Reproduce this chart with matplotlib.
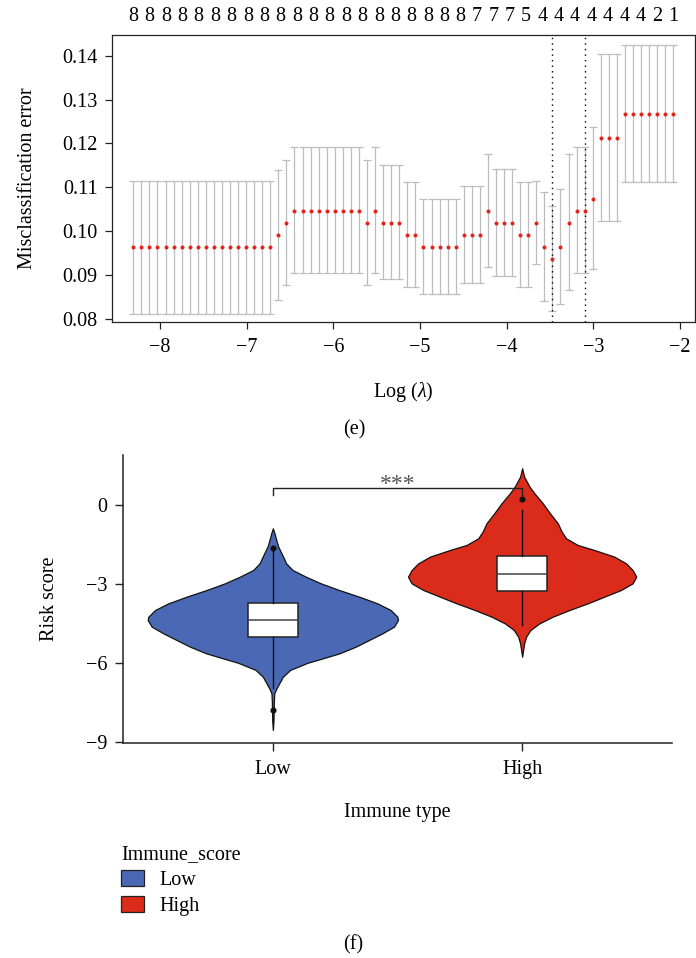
import matplotlib
matplotlib.use("Agg")
import matplotlib.pyplot as plt
import numpy as np
from matplotlib.patches import Patch

plt.rcParams["font.family"] = ["Liberation Serif", "DejaVu Serif"]
plt.rcParams["mathtext.fontset"] = "custom"
plt.rcParams["mathtext.rm"] = "Liberation Serif"
plt.rcParams["mathtext.it"] = "Liberation Serif:italic"
plt.rcParams["axes.unicode_minus"] = True

# ---------------- cross-validation curve (LASSO) ----------------
log_lambda = [
    -8.308, -8.215, -8.122, -8.029, -7.936, -7.843, -7.750, -7.657, -7.564, -7.471,
    -7.378, -7.285, -7.192, -7.099, -7.006, -6.913, -6.820, -6.727, -6.634, -6.541,
    -6.448, -6.355, -6.262, -6.169, -6.076, -5.983, -5.890, -5.797, -5.704, -5.611,
    -5.518, -5.425, -5.332, -5.239, -5.146, -5.053, -4.960, -4.867, -4.774, -4.681,
    -4.588, -4.495, -4.402, -4.309, -4.216, -4.123, -4.030, -3.937, -3.844, -3.751,
    -3.658, -3.565, -3.472, -3.379, -3.286, -3.193, -3.100, -3.007, -2.914, -2.821,
    -2.728, -2.635, -2.542, -2.449, -2.356, -2.263, -2.170, -2.077,
]
cv_mean = [
    0.0964, 0.0964, 0.0964, 0.0964, 0.0964, 0.0964, 0.0964, 0.0964, 0.0964, 0.0964,
    0.0964, 0.0964, 0.0964, 0.0964, 0.0964, 0.0964, 0.0964, 0.0964, 0.0992, 0.1019,
    0.1047, 0.1047, 0.1047, 0.1047, 0.1047, 0.1047, 0.1047, 0.1047, 0.1047, 0.1019,
    0.1047, 0.1019, 0.1019, 0.1019, 0.0992, 0.0992, 0.0964, 0.0964, 0.0964, 0.0964,
    0.0964, 0.0992, 0.0992, 0.0992, 0.1047, 0.1019, 0.1019, 0.1019, 0.0992, 0.0992,
    0.1019, 0.0964, 0.0937, 0.0964, 0.1019, 0.1047, 0.1047, 0.1074, 0.1212, 0.1212,
    0.1212, 0.1267, 0.1267, 0.1267, 0.1267, 0.1267, 0.1267, 0.1267,
]
cv_upper = [
    0.1115, 0.1115, 0.1115, 0.1115, 0.1115, 0.1115, 0.1115, 0.1115, 0.1115, 0.1115,
    0.1115, 0.1115, 0.1115, 0.1115, 0.1115, 0.1115, 0.1115, 0.1115, 0.1140, 0.1162,
    0.1191, 0.1191, 0.1191, 0.1191, 0.1191, 0.1191, 0.1191, 0.1191, 0.1191, 0.1162,
    0.1191, 0.1150, 0.1150, 0.1150, 0.1112, 0.1112, 0.1073, 0.1073, 0.1073, 0.1073,
    0.1073, 0.1104, 0.1104, 0.1104, 0.1176, 0.1141, 0.1141, 0.1141, 0.1112, 0.1112,
    0.1115, 0.1090, 0.1057, 0.1096, 0.1176, 0.1191, 0.1191, 0.1237, 0.1403, 0.1403,
    0.1403, 0.1425, 0.1425, 0.1425, 0.1425, 0.1425, 0.1425, 0.1425,
]
cv_lower = [
    0.0812, 0.0812, 0.0812, 0.0812, 0.0812, 0.0812, 0.0812, 0.0812, 0.0812, 0.0812,
    0.0812, 0.0812, 0.0812, 0.0812, 0.0812, 0.0812, 0.0812, 0.0812, 0.0844, 0.0877,
    0.0904, 0.0904, 0.0904, 0.0904, 0.0904, 0.0904, 0.0904, 0.0904, 0.0904, 0.0877,
    0.0904, 0.0891, 0.0891, 0.0891, 0.0873, 0.0873, 0.0856, 0.0856, 0.0856, 0.0856,
    0.0856, 0.0881, 0.0881, 0.0881, 0.0919, 0.0899, 0.0899, 0.0899, 0.0873, 0.0873,
    0.0926, 0.0841, 0.0819, 0.0834, 0.0865, 0.0905, 0.0905, 0.0915, 0.1024, 0.1024,
    0.1024, 0.1112, 0.1112, 0.1112, 0.1112, 0.1112, 0.1112, 0.1112,
]
nzero_labels = [
    8, 8, 8, 8, 8, 8, 8, 8, 8, 8, 8, 8, 8, 8, 8, 8, 8, 8, 8, 8, 8,
    7, 7, 7, 5, 4, 4, 4, 4, 4, 4, 4, 2, 1,
]
x_ticks_top = [-8, -7, -6, -5, -4, -3, -2]
y_ticks_top = [0.08, 0.09, 0.10, 0.11, 0.12, 0.13, 0.14]

# ---------------- risk score by immune type ----------------
groups = ["Low", "High"]
group_colors = ["#4A68B3", "#DA2B1B"]
# kernel density profiles of the risk score (relative density)
low_coords = [-8.555, -8.20, -7.50, -7.161, -6.97, -6.78, -6.53, -6.27, -6.00, -5.83,
              -5.64, -5.387, -5.133, -4.880, -4.626, -4.373, -4.246, -3.992, -3.739,
              -3.485, -3.232, -2.978, -2.725, -2.471, -2.218, -2.028, -1.838, -1.584,
              -1.331, -1.078, -0.887]
low_density = [0.000, 0.005, 0.008, 0.011, 0.029, 0.051, 0.080, 0.138, 0.277, 0.399,
               0.532, 0.662, 0.769, 0.875, 0.968, 1.000, 0.995, 0.941, 0.835,
               0.689, 0.529, 0.383, 0.263, 0.157, 0.106, 0.088, 0.069, 0.043,
               0.027, 0.013, 0.000]
high_coords = [-5.767, -5.26, -5.006, -4.753, -4.500, -4.246, -3.993, -3.739, -3.486,
               -3.232, -2.979, -2.725, -2.472, -2.218, -1.965, -1.711, -1.521, -1.268,
               -1.014, -0.697, -0.317, 0.063, 0.444, 0.696, 1.077, 1.394]
high_density = [0.000, 0.016, 0.032, 0.066, 0.138, 0.245, 0.378, 0.524, 0.657,
                0.790, 0.883, 0.912, 0.883, 0.830, 0.737, 0.577, 0.444, 0.351,
                0.316, 0.285, 0.223, 0.165, 0.098, 0.059, 0.016, 0.000]
# box-plot summaries
box_q1 = [-5.03, -3.27]
box_med = [-4.37, -2.62]
box_q3 = [-3.71, -1.94]
box_whislo = [-6.95, -4.56]
box_whishi = [-1.75, -0.19]
box_fliers = [[-1.65, -7.80], [0.216]]
risk_ticks = [0, -3, -6, -9]
signif_label = "***"

# ---------------- figure ----------------
W, H = 696, 958
fig = plt.figure(figsize=(W / 100, H / 100), dpi=100)


def fx(px):
    return px / W


def fy(py):
    return 1 - py / H


FS = 14.5

# Panel (e)
ax1 = fig.add_axes([fx(111.7), fy(322.3), (695 - 111.7) / W, (322.3 - 35) / H])
lam = np.array(log_lambda)
mean = np.array(cv_mean)
up = np.array(cv_upper)
lo = np.array(cv_lower)
ax1.errorbar(lam, mean, yerr=[mean - lo, up - mean], fmt="none", ecolor="#bcbcbc",
             elinewidth=0.9, capsize=3.1, capthick=0.9, zorder=1)
ax1.plot(lam, mean, "o", color="#e3241b", ms=2.9, mec="none", zorder=3)

i_min = int(np.argmin(mean))
se_min = up[i_min] - mean[i_min]
i_1se = int(np.max(np.where(mean <= mean[i_min] + se_min)[0]))
for i in (i_min, i_1se):
    ax1.axvline(lam[i], color="black", ls=(0, (1, 3)), lw=1.0, zorder=2)

ax1.set_xlim(-8.557, -1.827)
ax1.set_ylim(0.07925, 0.1447)
ax1.set_xticks(x_ticks_top)
ax1.set_xticklabels([f"{t}".replace("-", "\u2212") for t in x_ticks_top])
ax1.set_yticks(y_ticks_top)
ax1.set_yticklabels([f"{t:.2f}" for t in y_ticks_top])
ax1.tick_params(axis="both", labelsize=FS, length=4.8, width=0.9, direction="out",
                color="#222222")
ax1.tick_params(axis="y", pad=5.5)
ax1.tick_params(axis="x", pad=6.5)
for s in ax1.spines.values():
    s.set_linewidth(0.9)
    s.set_color("#222222")

ax1.set_xlabel(r"Log ($\mathit{\lambda}$)", fontsize=FS)
ax1.xaxis.set_label_coords(0.5, -0.2426)
ax1.xaxis.label.set_va("center")
ax1.set_ylabel("Misclassification error", fontsize=FS)
ax1.yaxis.set_label_coords(-0.1435, 0.5)
ax1.yaxis.label.set_va("center")

top = ax1.twiny()
top.set_xlim(ax1.get_xlim())
top.set_xticks(np.linspace(lam[0], lam[-1], len(nzero_labels)))
top.set_xticklabels([str(v) for v in nzero_labels])
top.tick_params(axis="x", length=0, pad=6.5, labelsize=FS)
for s in top.spines.values():
    s.set_visible(False)

fig.text(fx(354), fy(430), "(e)", fontsize=FS, ha="center", va="center")

# Panel (f)
ax2 = fig.add_axes([fx(123.3), fy(743.3), (671.7 - 123.3) / W, (743.3 - 455) / H])
positions = [0, 1]
profiles = [(low_coords, low_density), (high_coords, high_density)]
vpstats = []
for (c, d), med in zip(profiles, box_med):
    vpstats.append({"coords": np.array(c), "vals": np.array(d), "mean": med,
                    "median": med, "min": min(c), "max": max(c), "quantiles": []})
half_max = 0.502  # half-width of the widest violin in category units
widths = [2 * half_max * max(d) for _, d in profiles]
parts = ax2.violin(vpstats, positions=positions, widths=widths, showmeans=False,
                   showextrema=False, showmedians=False)
for body, col in zip(parts["bodies"], group_colors):
    body.set_facecolor(col)
    body.set_edgecolor("#111111")
    body.set_linewidth(0.9)
    body.set_alpha(1)
    body.set_zorder(1)

bstats = []
for k in range(len(groups)):
    bstats.append({"med": box_med[k], "q1": box_q1[k], "q3": box_q3[k],
                   "whislo": box_whislo[k], "whishi": box_whishi[k],
                   "fliers": box_fliers[k]})
ax2.bxp(bstats, positions=positions, widths=0.2, patch_artist=True, showcaps=False,
        boxprops=dict(facecolor="white", edgecolor="#222222", linewidth=1.1),
        medianprops=dict(color="#444444", linewidth=1.1),
        whiskerprops=dict(color="#111111", linewidth=1.0),
        flierprops=dict(marker="o", markerfacecolor="#111111", markeredgecolor="#111111",
                        markersize=3.4),
        zorder=2)

# significance bracket
br_top, br_leg = 0.635, 0.38
ax2.plot([positions[0], positions[0], positions[1], positions[1]],
         [br_leg, br_top, br_top, br_leg], color="#222222", lw=1.0, zorder=3)
ax2.text(np.mean(positions), 0.58, signif_label, ha="center", va="baseline",
         fontsize=17, color="#555555")

ax2.set_xlim(-0.6, 1.6)
ax2.set_ylim(-9.06, 1.90)
ax2.set_yticks(risk_ticks)
ax2.set_yticklabels([f"{t}".replace("-", "\u2212") for t in risk_ticks])
ax2.set_xticks(positions)
ax2.set_xticklabels(groups)
ax2.spines["top"].set_visible(False)
ax2.spines["right"].set_visible(False)
for s in ("left", "bottom"):
    ax2.spines[s].set_linewidth(1.1)
    ax2.spines[s].set_color("#222222")
ax2.tick_params(axis="both", labelsize=FS, length=5.8, width=1.0, color="#222222")
ax2.tick_params(axis="y", pad=5.5)
ax2.tick_params(axis="x", pad=6.5)

ax2.set_xlabel("Immune type", fontsize=FS)
ax2.xaxis.set_label_coords(0.5, -0.2413)
ax2.xaxis.label.set_va("center")
ax2.set_ylabel("Risk score", fontsize=FS)
ax2.yaxis.set_label_coords(-0.1342, 0.5)
ax2.yaxis.label.set_va("center")

handles = [Patch(facecolor=c, edgecolor="#222222", linewidth=0.9) for c in group_colors]
leg = fig.legend(handles, groups, title="Immune_score", loc="upper left",
                 bbox_to_anchor=(fx(121), fy(845)), frameon=False, fontsize=FS,
                 title_fontsize=FS, handlelength=1.15, handleheight=0.85,
                 handletextpad=0.75, labelspacing=0.30, borderpad=0, borderaxespad=0,
                 alignment="left")

fig.text(fx(353), fy(945), "(f)", fontsize=FS, ha="center", va="center")

fig.savefig("out.png", dpi=100)
